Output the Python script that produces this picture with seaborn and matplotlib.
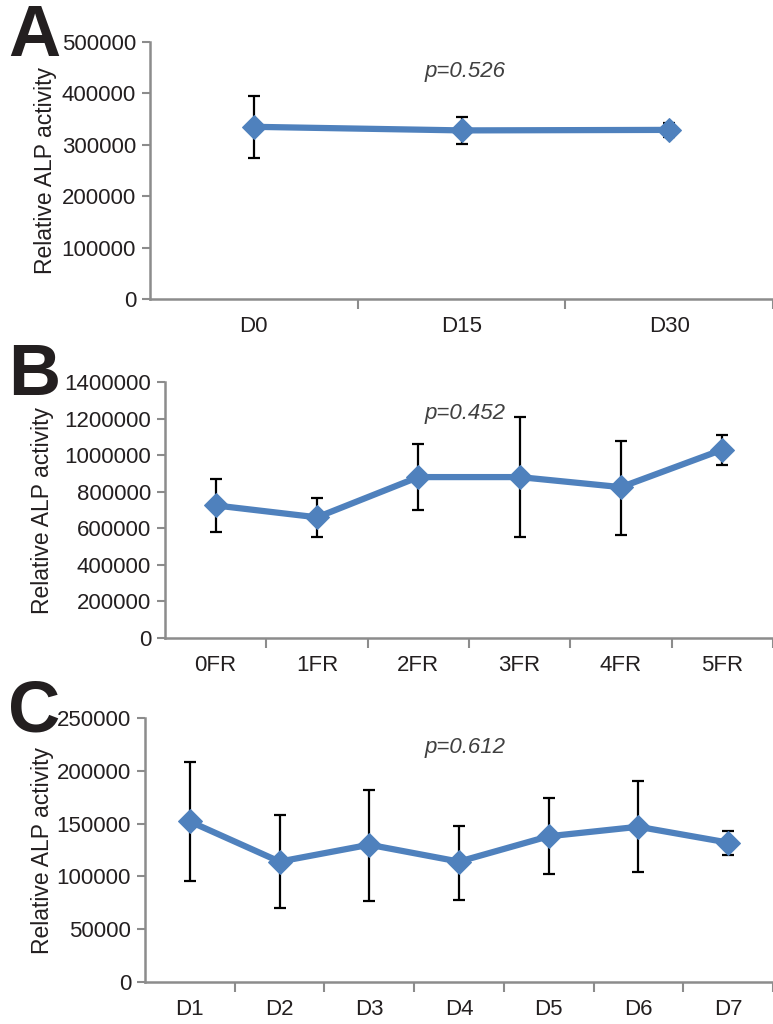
import matplotlib
matplotlib.use("Agg")
import matplotlib.pyplot as plt
import seaborn as sns
import pandas as pd
import numpy as np

# Panel A
a_labels = ["D0", "D15", "D30"]
a_mean = [335000, 328000, 329000]
a_low = [275000, 302000, 315000]
a_high = [395000, 355000, 342000]

# Panel B
b_labels = ["0FR", "1FR", "2FR", "3FR", "4FR", "5FR"]
b_mean = [725000, 660000, 880000, 880000, 825000, 1030000]
b_low = [580000, 550000, 700000, 550000, 565000, 945000]
b_high = [870000, 765000, 1060000, 1210000, 1080000, 1110000]

# Panel C
c_labels = ["D1", "D2", "D3", "D4", "D5", "D6", "D7"]
c_mean = [152000, 114000, 130000, 114000, 138000, 147000, 132000]
c_low = [96000, 70000, 77000, 78000, 102000, 104000, 120000]
c_high = [208000, 158000, 182000, 148000, 174000, 190000, 143000]

p_texts = ["p=0.526", "p=0.452", "p=0.612"]
panel_letters = ["A", "B", "C"]

sns.set_style("white")
plt.rcParams["font.family"] = ["Liberation Sans", "DejaVu Sans"]

line_color = "#4F81BD"
spine_color = "#8C8C8C"

fig = plt.figure(figsize=(7.73, 10.24), dpi=100)

# axes rectangles [left, bottom, width, height] in figure fraction
rects = [
    [150 / 773, 1 - 299 / 1024, 1 - 150 / 773, (299 - 42) / 1024],
    [165 / 773, 1 - 638 / 1024, 1 - 165 / 773, (638 - 382) / 1024],
    [145 / 773, 1 - 982 / 1024, 1 - 145 / 773, (982 - 718) / 1024],
]
panels = [
    (a_labels, a_mean, a_low, a_high, 500000, 100000),
    (b_labels, b_mean, b_low, b_high, 1400000, 200000),
    (c_labels, c_mean, c_low, c_high, 250000, 50000),
]
p_y = [72, 413, 747]
letter_y = [3, 342, 678]
label_x = [-0.15, -0.183, -0.145]

for i, (labels, mean, low, high, ymax, step) in enumerate(panels):
    ax = fig.add_axes(rects[i])
    n = len(labels)
    df = pd.DataFrame({"pos": np.arange(n), "value": mean})
    yerr = [np.array(mean) - np.array(low), np.array(high) - np.array(mean)]
    ax.errorbar(df["pos"], df["value"], yerr=yerr, fmt="none", ecolor="black",
                elinewidth=1.6, capsize=4.3, capthick=1.6, zorder=1)
    sns.lineplot(data=df, x="pos", y="value", ax=ax, color=line_color,
                 linewidth=4.5, marker="D", markersize=12,
                 markeredgecolor=line_color, zorder=2)

    ax.set_xlim(-0.5, n - 0.5)
    ax.set_ylim(0, ymax)
    ax.set_yticks(np.arange(0, ymax + 1, step))
    ax.set_yticklabels([f"{int(v)}" for v in np.arange(0, ymax + 1, step)])
    ax.set_xticks(np.arange(n))
    ax.set_xticklabels(labels)
    ax.set_xticks(np.arange(n) + 0.5, minor=True)
    ax.tick_params(axis="x", which="major", length=0, pad=12, labelsize=16,
                   labelcolor="#231F20")
    ax.tick_params(axis="x", which="minor", length=7, width=1.5,
                   color=spine_color, direction="out")
    ax.tick_params(axis="y", length=6, width=1.5, color=spine_color,
                   direction="out", labelsize=16, labelcolor="#231F20", pad=4)
    ax.tick_params(bottom=True, left=True, which="both")

    for side in ["top", "right"]:
        ax.spines[side].set_visible(False)
    for side in ["left", "bottom"]:
        ax.spines[side].set_color(spine_color)
        ax.spines[side].set_linewidth(1.8)

    ax.set_xlabel("")
    ax.set_ylabel("Relative ALP activity", fontsize=16.5, color="#231F20")
    ax.yaxis.set_label_coords(label_x[i], 0.5)

    fig.text(465 / 773, 1 - p_y[i] / 1024, p_texts[i], ha="center", va="center",
             fontsize=16, style="italic", color="#404040")
    fig.text(8 / 773, 1 - letter_y[i] / 1024, panel_letters[i], ha="left",
             va="top", fontsize=52, fontweight="bold", color="#231F20")

fig.savefig("out.png", dpi=100)
